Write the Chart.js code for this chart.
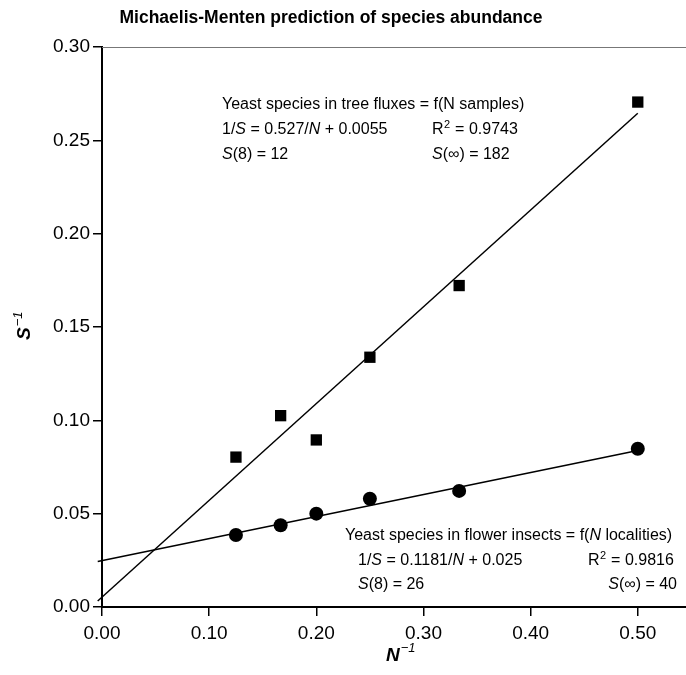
<!DOCTYPE html>
<html>
<head>
<meta charset="utf-8">
<script src="https://cdn.jsdelivr.net/npm/chart.js@4"></script>
<style>
  html, body { margin: 0; padding: 0; background: #fff; }
  #wrap { width: 686px; height: 675px; position: relative; }
</style>
</head>
<body>
<div id="wrap"><canvas id="c"></canvas></div>
<script>
// ---- data ----
const nInverse      = [0.125, 0.1667, 0.2, 0.25, 0.3333, 0.5];
const treeSInverse  = [0.0803, 0.1025, 0.0895, 0.1338, 0.1722, 0.2705];
const flowerSInverse= [0.0386, 0.0438, 0.0500, 0.0580, 0.0622, 0.0848];
const fitX          = [-0.004, 0.5];
const treeFitY      = [0.0032, 0.2645];
const flowerFitY    = [0.0244, 0.0838];
const xTicks = [0, 0.1, 0.2, 0.3, 0.4, 0.5];
const yTicks = [0, 0.05, 0.10, 0.15, 0.20, 0.25, 0.30];
const titleText = 'Michaelis-Menten prediction of species abundance';
const treeNotes = {
  head: [['Yeast species in tree fluxes = f(N samples)']],
  eq: [['1/'], ['S', 'i'], [' = 0.527/'], ['N', 'i'], [' + 0.0055']],
  r2: '0.9743',
  s8: '12', sInf: '182'
};
const flowerNotes = {
  head: [['Yeast species in flower insects = f('], ['N', 'i'], [' localities)']],
  eq: [['1/'], ['S', 'i'], [' = 0.1181/'], ['N', 'i'], [' + 0.025']],
  r2: '0.9816',
  s8: '26', sInf: '40'
};

const FONT = '"Liberation Sans", Arial, Helvetica, sans-serif';

function pts(xs, ys) { return xs.map((x, i) => ({ x: x, y: ys[i] })); }

function runsWidth(ctx, runs, size) {
  let w = 0;
  for (const r of runs) {
    ctx.font = (r[1] === 'i' ? 'italic ' : '') + size + 'px ' + FONT;
    w += ctx.measureText(r[0]).width;
  }
  return w;
}
function drawRuns(ctx, runs, x, y, size) {
  let cx = x;
  for (const r of runs) {
    ctx.font = (r[1] === 'i' ? 'italic ' : '') + size + 'px ' + FONT;
    ctx.fillText(r[0], cx, y);
    cx += ctx.measureText(r[0]).width;
  }
  return cx;
}
function drawR2(ctx, x, y, size, val) {
  let e = drawRuns(ctx, [['R']], x, y, size);
  ctx.font = Math.round(size * 0.68) + 'px ' + FONT;
  ctx.fillText('2', e + 0.5, y - 5);
  e += ctx.measureText('2').width + 1;
  drawRuns(ctx, [[' = ' + val]], e, y, size);
}

const annot = {
  id: 'annot',
  afterDraw(chart) {
    const ctx = chart.ctx;
    const xs = chart.scales.x, ys = chart.scales.y;
    ctx.save();
    ctx.fillStyle = '#000';
    ctx.textBaseline = 'middle';
    ctx.textAlign = 'left';

    // top frame line
    ctx.strokeStyle = '#777';
    ctx.lineWidth = 1;
    const ty = Math.round(ys.getPixelForValue(0.30)) + 0.5;
    ctx.beginPath(); ctx.moveTo(xs.left, ty); ctx.lineTo(chart.width, ty); ctx.stroke();

    // title
    ctx.font = 'bold 17.5px ' + FONT;
    ctx.textAlign = 'center';
    ctx.fillText(titleText, 331, 18);
    ctx.textAlign = 'left';

    // axis titles
    ctx.font = 'bold italic 19px ' + FONT;
    const nW = ctx.measureText('N').width;
    ctx.fillText('N', 386, 656);
    ctx.font = 'italic 13px ' + FONT;
    ctx.fillText('\u22121', 386 + nW + 1, 648);

    ctx.save();
    ctx.translate(30, 340);
    ctx.rotate(-Math.PI / 2);
    ctx.textBaseline = 'alphabetic';
    ctx.font = 'bold italic 19px ' + FONT;
    const sW = ctx.measureText('S').width;
    ctx.fillText('S', 0, 0);
    ctx.font = 'italic 13px ' + FONT;
    ctx.fillText('\u22121', sW + 1, -8);
    ctx.restore();

    const fs = 16;
    // tree annotations
    drawRuns(ctx, treeNotes.head, 222, 105, fs);
    drawRuns(ctx, treeNotes.eq, 222, 130, fs);
    drawR2(ctx, 432, 130, fs, treeNotes.r2);
    drawRuns(ctx, [['S', 'i'], ['(8) = ' + treeNotes.s8]], 222, 155, fs);
    drawRuns(ctx, [['S', 'i'], ['(\u221E) = ' + treeNotes.sInf]], 432, 155, fs);

    // flower annotations
    drawRuns(ctx, flowerNotes.head, 345, 536, fs);
    drawRuns(ctx, flowerNotes.eq, 358, 561, fs);
    drawR2(ctx, 588, 561, fs, flowerNotes.r2);
    drawRuns(ctx, [['S', 'i'], ['(8) = ' + flowerNotes.s8]], 358, 585, fs);
    const infRuns = [['S', 'i'], ['(\u221E) = ' + flowerNotes.sInf]];
    drawRuns(ctx, infRuns, 677 - runsWidth(ctx, infRuns, fs), 585, fs);
    ctx.restore();
  }
};

new Chart(document.getElementById('c'), {
  type: 'scatter',
  data: {
    datasets: [
      { label: 'tree fit', type: 'line', data: pts(fitX, treeFitY), borderColor: '#000', borderWidth: 1.5,
        pointRadius: 0, fill: false, tension: 0, clip: false, order: 2 },
      { label: 'flower fit', type: 'line', data: pts(fitX, flowerFitY), borderColor: '#000', borderWidth: 1.5,
        pointRadius: 0, fill: false, tension: 0, clip: false, order: 2 },
      { label: 'Tree fluxes', data: pts(nInverse, treeSInverse), pointStyle: 'rect', pointRadius: 8,
        backgroundColor: '#000', borderColor: '#000', borderWidth: 0, order: 1 },
      { label: 'Flower insects', data: pts(nInverse, flowerSInverse), pointStyle: 'circle', pointRadius: 7,
        backgroundColor: '#000', borderColor: '#000', borderWidth: 0, order: 1 }
    ]
  },
  options: {
    responsive: true,
    maintainAspectRatio: false,
    animation: false,
    layout: { autoPadding: false, padding: { top: 47, right: 0, left: 0, bottom: 0 } },
    plugins: { legend: { display: false }, title: { display: false }, tooltip: { enabled: false } },
    scales: {
      x: {
        type: 'linear', min: 0, max: 0.545,
        afterBuildTicks: s => { s.ticks = xTicks.map(v => ({ value: v })); },
        afterFit: s => { s.height = 68; s.paddingRight = 0; s.paddingLeft = 0; },
        ticks: { color: '#000', font: { family: FONT, size: 19 }, padding: 6,
                 callback: v => Number(v).toFixed(2), maxRotation: 0 },
        grid: { drawOnChartArea: false, drawTicks: true, tickLength: 9, color: '#000', lineWidth: 1.5 },
        border: { color: '#000', width: 2 }
      },
      y: {
        type: 'linear', min: 0, max: 0.30,
        afterBuildTicks: s => { s.ticks = yTicks.map(v => ({ value: v })); },
        afterFit: s => { s.width = 102; s.paddingTop = 0; s.paddingBottom = 0; },
        ticks: { color: '#000', font: { family: FONT, size: 19 }, padding: 3,
                 callback: v => Number(v).toFixed(2) },
        grid: { drawOnChartArea: false, drawTicks: true, tickLength: 9, color: '#000', lineWidth: 1.5 },
        border: { color: '#000', width: 2 }
      }
    }
  },
  plugins: [annot]
});
</script>
</body>
</html>
